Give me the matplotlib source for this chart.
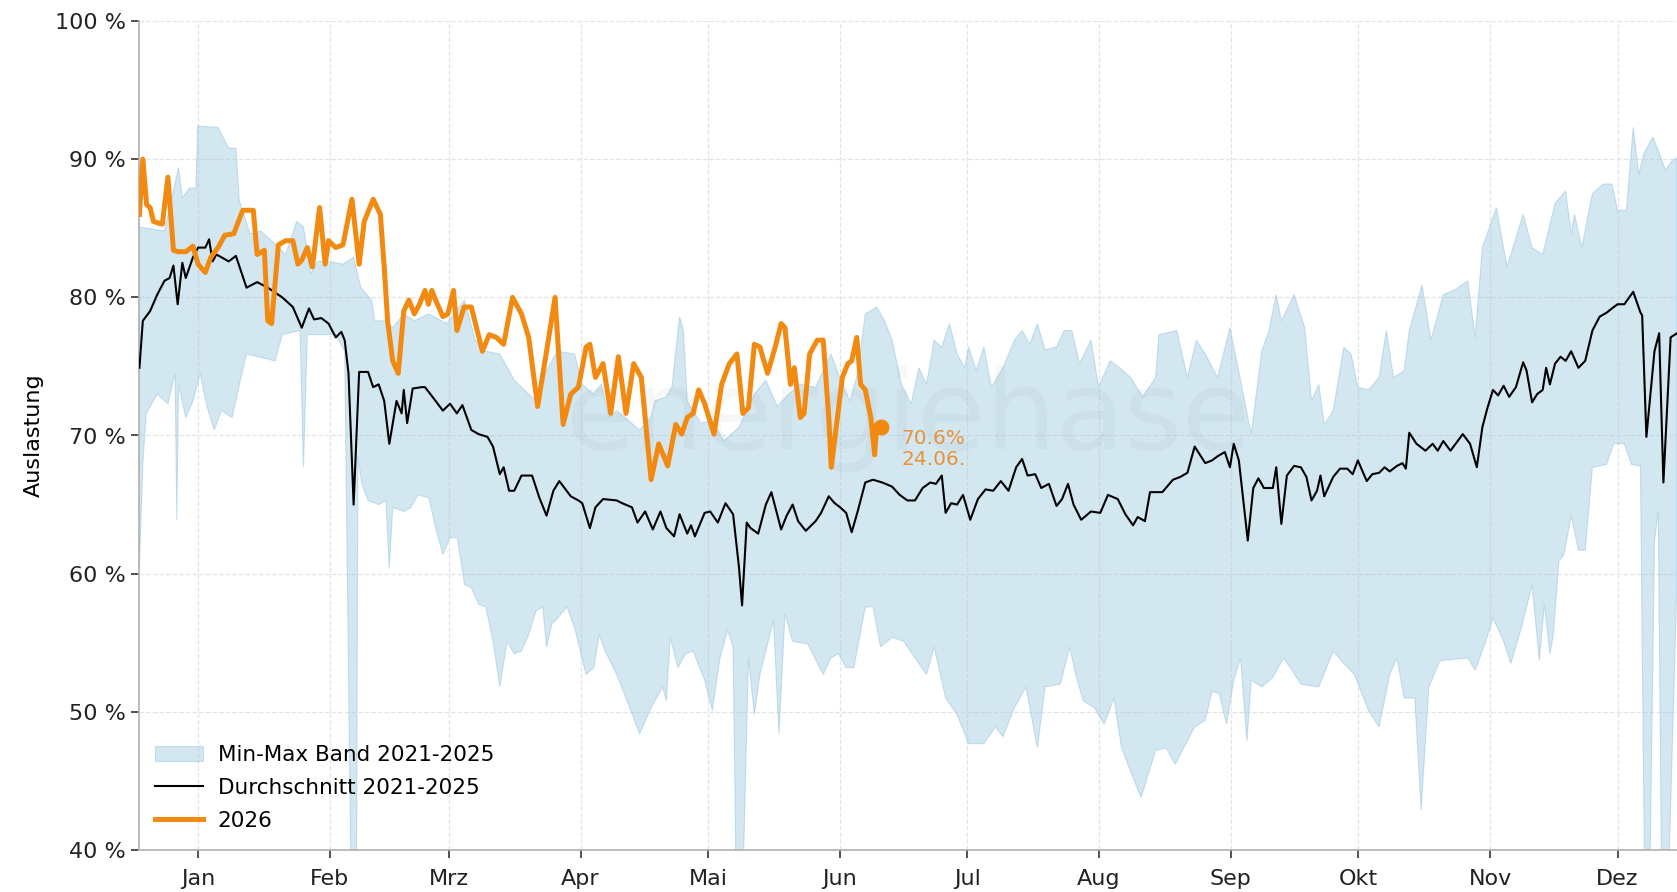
import matplotlib
matplotlib.use('Agg')
import matplotlib.pyplot as plt
import numpy as np

# x axis = day of year (0 = 1. Januar)
months = ['Jan', 'Feb', 'Mrz', 'Apr', 'Mai', 'Jun', 'Jul', 'Aug', 'Sep', 'Okt', 'Nov', 'Dez']
month_start = [0, 31, 59, 90, 120, 151, 181, 212, 243, 273, 304, 334]
y_ticks = [40, 50, 60, 70, 80, 90, 100]

# Durchschnitt 2021-2025
avg_day = [-13.8, -13.0, -11.3, -9.6, -7.9, -6.7, -5.8, -4.8, -3.7, -2.9, -1.2, 0.0, 1.7, 2.6, 3.4, 4.3,
           5.5, 7.2, 8.9, 11.4, 13.9, 16.4, 19.8, 22.3, 24.4, 26.1, 27.3, 29.0, 30.7, 32.4, 33.7, 34.5,
           35.4, 36.6, 37.9, 40.0, 41.2, 42.5, 43.8, 45.0, 46.7, 47.9, 48.4, 49.2, 50.5, 52.6, 53.4,
           55.9, 57.6, 59.3, 60.9, 62.2, 64.3, 66.0, 68.1, 69.4, 70.2, 71.0, 71.9, 73.2, 74.4, 76.1,
           78.6, 80.3, 82.0, 83.6, 85.0, 87.7, 89.5, 90.4, 92.2, 93.5, 95.3, 98.5, 99.8, 102.1, 103.4,
           105.2, 107.0, 108.8, 110.2, 112.0, 113.3, 115.1, 116.0, 116.9, 119.2, 120.5, 122.3, 124.1,
           125.9, 127.3, 128.0, 129.1, 130.0, 131.8, 133.6, 134.9, 137.2, 138.5, 139.9, 141.2, 143.0,
           145.3, 146.6, 148.4, 149.8, 151.1, 152.5, 153.8, 155.2, 157.0, 158.8, 161.0, 163.3, 165.1,
           166.9, 168.7, 170.5, 172.3, 173.6, 175.0, 175.9, 177.2, 178.6, 180.0, 181.7, 183.5, 185.3,
           187.1, 188.9, 190.7, 192.5, 193.9, 195.2, 197.0, 198.4, 200.2, 202.0, 203.3, 204.7, 206.0,
           207.8, 210.1, 212.3, 214.1, 216.4, 218.2, 220.0, 221.1, 222.8, 224.0, 226.9, 229.4, 231.1,
           232.8, 234.5, 237.0, 238.6, 239.9, 241.6, 242.8, 243.7, 244.9, 247.0, 248.3, 249.5, 250.8,
           252.9, 253.7, 254.9, 256.2, 257.9, 259.5, 260.8, 262.0, 263.3, 264.1, 265.0, 267.1, 268.7,
           270.4, 271.7, 272.9, 275.0, 276.3, 277.9, 279.2, 280.4, 282.1, 283.4, 284.2, 285.0, 286.7,
           288.8, 290.5, 291.7, 293.0, 294.7, 297.6, 299.3, 300.9, 302.2, 303.4, 304.7, 305.9, 307.2,
           308.5, 310.1, 311.8, 312.6, 313.9, 315.1, 316.4, 317.2, 318.1, 319.3, 320.6, 321.8, 323.1,
           324.8, 326.4, 328.1, 329.8, 331.5, 332.7, 334.0, 335.6, 337.7, 339.4, 339.8, 340.8, 342.7,
           343.8, 344.8, 346.5, 348.0]
avg_val = [74.9, 78.3, 79.0, 80.2, 81.2, 81.4, 82.3, 79.5, 82.5, 81.4, 82.9, 83.6, 83.6, 84.2, 82.6, 83.1,
           82.9, 82.6, 83.0, 80.7, 81.1, 80.7, 80.0, 79.3, 77.8, 79.2, 78.4, 78.5, 78.1, 77.1, 77.5, 76.9,
           74.5, 65.0, 74.6, 74.6, 73.5, 73.7, 72.5, 69.4, 72.5, 71.6, 73.3, 70.9, 73.4, 73.5, 73.5,
           72.5, 71.8, 72.3, 71.6, 72.2, 70.4, 70.1, 69.9, 69.2, 68.2, 67.2, 67.7, 66.0, 66.0, 67.1,
           67.1, 65.5, 64.2, 66.0, 66.7, 65.6, 65.3, 65.1, 63.3, 64.8, 65.4, 65.3, 65.1, 64.8, 63.7,
           64.5, 63.2, 64.5, 63.3, 62.7, 64.3, 62.9, 63.5, 62.7, 64.4, 64.5, 63.7, 65.1,
           64.3, 60.4, 57.7, 63.7, 63.3, 62.9, 65.0, 65.9, 63.2, 64.2, 65.0, 63.8, 63.1,
           63.8, 64.4, 65.6, 65.1, 64.8, 64.4, 63.0, 64.5, 66.6, 66.8, 66.6, 66.3, 65.7,
           65.3, 65.3, 66.2, 66.6, 66.5, 67.1, 64.4, 65.1, 65.0, 65.7, 63.9, 65.4, 66.1,
           66.0, 66.7, 66.0, 67.7, 68.3, 67.1, 67.2, 66.2, 66.5, 64.9, 65.4, 66.5, 65.0,
           63.9, 64.5, 64.4, 65.7, 65.4, 64.3, 63.5, 64.1, 63.8, 65.9, 65.9, 66.8, 67.0,
           67.3, 69.2, 68.0, 68.2, 68.5, 68.8, 67.7, 69.4, 68.2, 62.4, 66.2, 66.9, 66.2,
           66.2, 67.7, 63.6, 67.1, 67.8, 67.7, 67.0, 65.3, 66.0, 67.1, 65.6, 67.0, 67.6,
           67.6, 67.2, 68.2, 66.7, 67.2, 67.3, 67.7, 67.4, 67.8, 68.0, 67.6, 70.2, 69.4,
           68.9, 69.4, 68.9, 69.6, 68.9, 70.1, 69.4, 67.7, 70.6, 72.0, 73.3, 72.9, 73.6,
           72.8, 73.5, 75.3, 74.7, 72.4, 73.0, 73.3, 74.9, 73.7, 75.2, 75.7, 75.4, 76.1,
           74.9, 75.4, 77.6, 78.6, 78.9, 79.2, 79.5, 79.5, 80.4, 78.9, 78.7, 69.9, 76.1,
           77.4, 66.6, 77.1, 77.4]

# Min-Max Band 2021-2025, upper edge
max_day = [-13.8, -7.9, -6.2, -4.6, -3.7, -2.0, -0.5, -0.1, 4.7, 7.2, 8.9, 9.7, 12.2, 14.7, 17.3, 20.6,
           23.2, 24.8, 26.5, 28.2, 30.7, 34.1, 36.6, 38.3, 40.8, 41.6, 44.2, 45.8, 48.4, 50.9, 54.3,
           58.5, 62.7, 65.2, 67.7, 71.0, 74.4, 79.5, 81.1, 84.5, 88.6, 90.4, 93.1, 94.9, 96.7, 98.5,
           101.2, 103.9, 106.6, 107.5, 110.2, 111.5, 113.3, 114.2, 115.1, 118.3, 121.0, 123.7, 127.3,
           130.9, 133.6, 136.3, 139.0, 141.7, 145.3, 148.9, 151.6, 153.4, 155.2, 157.0, 159.7, 161.5,
           163.3, 165.5, 167.8, 169.6, 171.4, 173.2, 175.0, 176.8, 178.6, 180.4, 181.3, 183.1, 184.9,
           186.7, 189.4, 192.1, 193.9, 195.7, 197.5, 199.3, 202.0, 203.8, 205.6, 207.4, 210.1, 211.9,
           214.6, 216.9, 219.4, 222.3, 225.3, 226.1, 230.3, 232.8, 234.9, 237.0, 239.9, 242.8, 245.3,
           247.8, 250.3, 252.0, 253.7, 254.9, 257.9, 260.4, 262.0, 263.7, 265.0, 267.1, 269.6, 271.3,
           272.9, 275.4, 277.9, 279.6, 281.3, 283.8, 285.0, 288.0, 290.1, 293.0, 295.5, 298.8, 300.5,
           302.2, 305.5, 308.0, 311.8, 313.9, 316.4, 319.3, 321.8, 323.1, 323.9, 325.6, 328.1, 330.6,
           332.7, 334.0, 336.1, 337.7, 339.0, 340.2, 342.3, 343.6, 345.3, 346.9, 348.0]
max_val = [85.1, 84.8, 87.2, 89.4, 87.2, 87.9, 87.9, 92.4, 92.3, 90.8, 90.8, 87.0, 84.6, 84.8, 84.1, 83.1,
           85.5, 85.1, 81.7, 82.6, 82.6, 82.4, 82.9, 80.7, 79.8, 78.3, 78.3, 77.8, 78.8, 78.3, 78.8,
           78.1, 79.8, 76.9, 76.1, 75.9, 74.0, 72.5, 74.2, 76.1, 75.9, 73.7, 73.0, 73.7, 71.3, 71.8,
           71.1, 70.4, 71.3, 72.5, 72.8, 73.5, 78.6, 77.6, 72.5, 70.9, 71.1, 69.6, 70.6,
           73.0, 74.0, 72.1, 73.0, 73.7, 73.5, 75.9, 73.7, 72.5, 74.5, 78.8, 79.3, 78.3,
           76.9, 73.7, 72.3, 74.9, 73.7, 76.9, 76.4, 78.1, 75.9, 74.9, 76.4, 74.7, 76.4,
           73.5, 74.9, 76.9, 77.6, 76.6, 78.1, 76.2, 76.4, 77.6, 77.6, 75.2, 76.9, 73.5,
           75.4, 74.9, 74.2, 72.8, 74.2, 77.3, 77.6, 74.2, 76.9, 75.9, 74.2, 77.8, 74.0,
           70.1, 76.1, 77.6, 80.2, 78.3, 80.2, 77.8, 72.5, 73.7, 70.8, 71.8, 76.4, 75.9,
           73.5, 73.3, 74.2, 77.6, 74.2, 74.7, 77.6, 80.9, 76.9, 80.2, 80.5, 81.2, 77.1,
           83.6, 86.5, 82.2, 86.0, 83.6, 83.1, 86.8, 87.7, 84.6, 86.0, 83.6, 87.5, 88.2,
           88.2, 86.3, 86.3, 92.3, 88.9, 90.4, 91.6, 90.6, 89.2, 89.9, 90.1]

# Min-Max Band 2021-2025, lower edge
min_day = [-13.8, -13.0, -12.2, -9.6, -7.1, -5.4, -5.0, -4.6, -2.9, -1.2, 0.5, 2.1, 3.8, 5.5, 8.0, 10.6,
           11.4, 18.1, 19.8, 24.0, 24.8, 25.7, 32.4, 34.5, 35.9, 37.3, 37.6, 38.5, 40.0, 42.5, 44.2,
           45.0, 45.8, 48.4, 50.1, 51.7, 54.3, 55.9, 57.6, 59.3, 61.0, 62.7, 64.3, 66.0, 67.7, 69.4,
           71.0, 72.7, 74.4, 76.1, 77.8, 79.5, 81.1, 82.0, 83.3, 84.1, 86.8, 88.6, 91.3, 93.1, 94.4,
           95.8, 98.5, 101.2, 103.9, 106.6, 109.3, 110.2, 111.1, 112.9, 114.7, 116.5, 119.2, 121.0,
           122.8, 124.6, 125.9, 126.5, 128.4, 129.5, 130.9, 132.2, 135.4, 136.7, 138.1, 139.9, 143.5,
           147.1, 148.9, 150.7, 152.5, 154.3, 157.0, 158.8, 160.6, 163.3, 166.0, 168.7, 171.4, 173.2,
           175.9, 178.6, 181.3, 184.9, 187.6, 189.4, 192.1, 194.8, 197.5, 199.3, 202.9, 205.1, 206.5,
           208.3, 210.9, 213.2, 215.5, 217.3, 219.4, 221.9, 225.3, 227.8, 229.9, 232.8, 234.5, 237.0,
           238.6, 240.3, 242.0, 243.7, 245.3, 246.8, 247.8, 250.3, 252.9, 255.4, 257.0, 259.5, 263.7,
           267.1, 269.6, 272.1, 275.4, 277.9, 280.4, 282.1, 283.8, 286.3, 287.8, 289.6, 292.2, 298.8,
           300.5, 303.0, 304.7, 307.2, 308.9, 311.4, 313.9, 315.6, 316.8, 318.1, 318.9, 320.2, 321.4,
           323.1, 324.8, 326.4, 328.1, 331.4, 333.1, 335.6, 337.3, 339.4, 340.3, 341.7, 342.7, 343.6,
           344.3, 346.2, 348.0]
min_val = [60.5, 68.0, 71.6, 73.0, 72.3, 74.5, 63.9, 73.7, 71.3, 72.5, 74.5, 72.1, 70.4, 71.8, 71.3, 74.9,
           75.9, 75.4, 77.3, 77.6, 67.7, 77.3, 77.3, 76.1, 40.0, 40.0, 68.5, 66.5, 65.3, 65.0, 65.3,
           60.4, 64.8, 64.5, 64.8, 65.7, 65.5, 63.3, 61.4, 62.6, 62.6, 59.2, 59.0, 57.8, 57.6, 55.1,
           51.8, 55.1, 54.2, 54.4, 55.6, 57.3, 57.6, 54.7, 56.4, 56.6, 57.6, 56.1, 52.7, 53.2, 55.6,
           54.4, 52.7, 50.6, 48.4, 50.3, 51.8, 50.8, 55.4, 53.2, 54.2, 54.4, 52.3, 50.1,
           53.9, 55.9, 54.7, 40.0, 40.0, 53.9, 49.8, 52.7, 56.6, 48.4, 57.1, 55.1, 54.9,
           52.7, 53.9, 54.2, 53.2, 53.2, 57.6, 57.6, 54.7, 55.4, 55.1, 53.9, 52.7, 54.7,
           51.0, 49.8, 47.7, 47.7, 48.9, 48.2, 50.3, 51.8, 47.4, 51.8, 52.0, 54.7, 52.7,
           50.8, 50.3, 49.1, 51.0, 47.4, 45.7, 43.8, 47.2, 47.4, 46.2, 47.9, 48.9, 49.4,
           51.5, 51.3, 49.1, 52.3, 53.9, 47.9, 52.3, 51.8, 52.5, 53.9, 53.2, 52.0, 51.8,
           54.4, 53.5, 52.7, 50.1, 48.9, 52.7, 53.9, 51.0, 51.0, 42.9, 51.8, 53.7, 53.9,
           53.0, 55.1, 56.8, 55.1, 53.5, 56.1, 59.2, 53.7, 57.8, 54.2, 55.6, 60.9, 61.4,
           64.2, 61.7, 61.7, 67.7, 67.9, 69.4, 69.4, 67.9, 67.8, 40.0, 40.0, 62.4, 64.5,
           40.0, 40.0, 59.5]

# 2026
y26_day = [-13.8, -13.0, -12.1, -11.3, -10.5, -9.6, -8.4, -7.1, -5.8, -4.6, -2.9, -1.2, 0.0, 1.7, 3.0,
           4.7, 6.3, 8.4, 10.5, 11.8, 13.0, 13.9, 15.6, 16.4, 17.3, 18.9, 20.6, 22.3, 23.5, 24.4, 25.7,
           26.9, 28.6, 29.9, 30.7, 32.4, 34.1, 36.2, 37.9, 39.1, 41.2, 42.9, 43.8, 44.6, 45.8, 47.1,
           48.4, 49.6, 50.9, 52.1, 53.4, 54.2, 55.0, 55.9, 57.6, 58.8, 60.1, 60.9, 62.6, 64.3, 66.9,
           68.5, 70.2, 71.9, 74.0, 76.1, 77.8, 79.9, 82.0, 84.0, 85.9, 87.7, 89.5, 91.3, 92.2, 93.5,
           95.3, 97.1, 98.9, 100.7, 102.5, 104.3, 106.6, 108.4, 110.5, 112.4, 113.8, 115.1, 116.5,
           117.8, 119.2, 121.4, 123.2, 125.0, 126.8, 128.2, 129.5, 130.9, 132.2, 134.0, 135.8, 137.2,
           138.1, 139.4, 140.3, 141.7, 142.6, 143.9, 145.7, 147.1, 148.4, 149.0, 151.6, 152.9, 153.8,
           155.0, 155.9, 157.0, 158.3, 159.2, 159.7, 160.6]
y26_val = [86.0, 90.0, 86.7, 86.5, 85.5, 85.4, 85.3, 88.7, 83.4, 83.3, 83.3, 83.7, 82.4, 81.8, 82.9,
           83.6, 84.5, 84.6, 86.3, 86.3, 86.3, 83.1, 83.4, 78.3, 78.1, 83.8, 84.1, 84.1, 82.4, 82.7, 83.6,
           82.2, 86.5, 82.4, 84.1, 83.6, 83.8, 87.1, 82.4, 85.5, 87.1, 86.0, 82.2, 78.3, 75.4, 74.5,
           79.0, 79.8, 78.8, 79.5, 80.5, 79.5, 80.5, 79.8, 78.6, 78.8, 80.5, 77.6, 79.3, 79.3, 76.1,
           77.3, 77.1, 76.6, 80.0, 78.8, 77.1, 72.1, 76.1, 80.0, 70.8, 73.0, 73.5, 76.4, 76.6, 74.2,
           75.2, 71.6, 75.7, 71.6, 75.2, 74.2, 66.8, 69.4, 67.8, 70.8, 70.1, 71.3, 71.6,
           73.3, 72.3, 70.1, 73.7, 75.2, 75.9, 71.6, 72.0, 76.6, 76.4, 74.5, 76.4, 78.1,
           77.8, 73.7, 74.9, 71.3, 71.6, 75.9, 76.9, 76.9, 71.3, 67.7, 74.2, 75.2, 75.4,
           77.1, 73.7, 73.3, 71.3, 68.6, 70.8, 70.6]
last_date = '24.06.'

orange = '#f28a12'

fig = plt.figure(figsize=(16.77, 8.92), dpi=100)
ax = fig.add_axes([139 / 1677, 42 / 892, 1538 / 1677, 829 / 892])

# band as one polygon: upper edge forward, lower edge back
band = ax.fill(np.r_[max_day, min_day[::-1]], np.r_[max_val, min_val[::-1]],
               facecolor='#9ecae1', alpha=0.45, edgecolor='#8dbfdc', linewidth=0.8,
               label='Min-Max Band 2021-2025', zorder=2)
ax.plot(avg_day, avg_val, color='black', lw=1.5, label='Durchschnitt 2021-2025', zorder=3)
ax.plot(y26_day, y26_val, color=orange, lw=3.6, label='2026', zorder=4, solid_joinstyle='round')
ax.plot(y26_day[-1], y26_val[-1], 'o', color=orange, ms=10.5, zorder=5)
ax.annotate(f'{y26_val[-1]}%\n{last_date}', xy=(y26_day[-1], y26_val[-1]),
            xytext=(15, -1), textcoords='offset points', ha='left', va='top',
            color='#e8923a', fontsize=14.5, linespacing=1.15, zorder=6)

# faint watermark
ax.text(0.5, 0.484, 'energiehase', transform=ax.transAxes, ha='center', va='baseline',
        fontsize=80, color='#2b3a4a', alpha=0.04, zorder=2.5)

ax.set_xlim(-13.9, 348.0)
ax.set_ylim(40, 100)
ax.set_xticks(month_start)
ax.set_xticklabels(months)
ax.set_yticks(y_ticks)
ax.set_yticklabels([f'{v} %' for v in y_ticks])
ax.set_ylabel('Auslastung', fontsize=16, labelpad=8)

ax.set_axisbelow(True)
ax.grid(True, linestyle='--', color='#e4e4e4', linewidth=0.9)
for side in ['top', 'right']:
    ax.spines[side].set_visible(False)
for side in ['left', 'bottom']:
    ax.spines[side].set_color('#b0b0b0')
    ax.spines[side].set_linewidth(1.2)
ax.tick_params(axis='both', labelsize=16, length=6, width=1.2, color='#333333', labelcolor='#222222')
ax.tick_params(axis='x', pad=8)

ax.legend(loc='lower left', frameon=False, fontsize=15.5, handlelength=2.2,
          handletextpad=0.7, labelspacing=0.6, bbox_to_anchor=(-0.002, 0.0))

plt.savefig('out.png', dpi=100)
